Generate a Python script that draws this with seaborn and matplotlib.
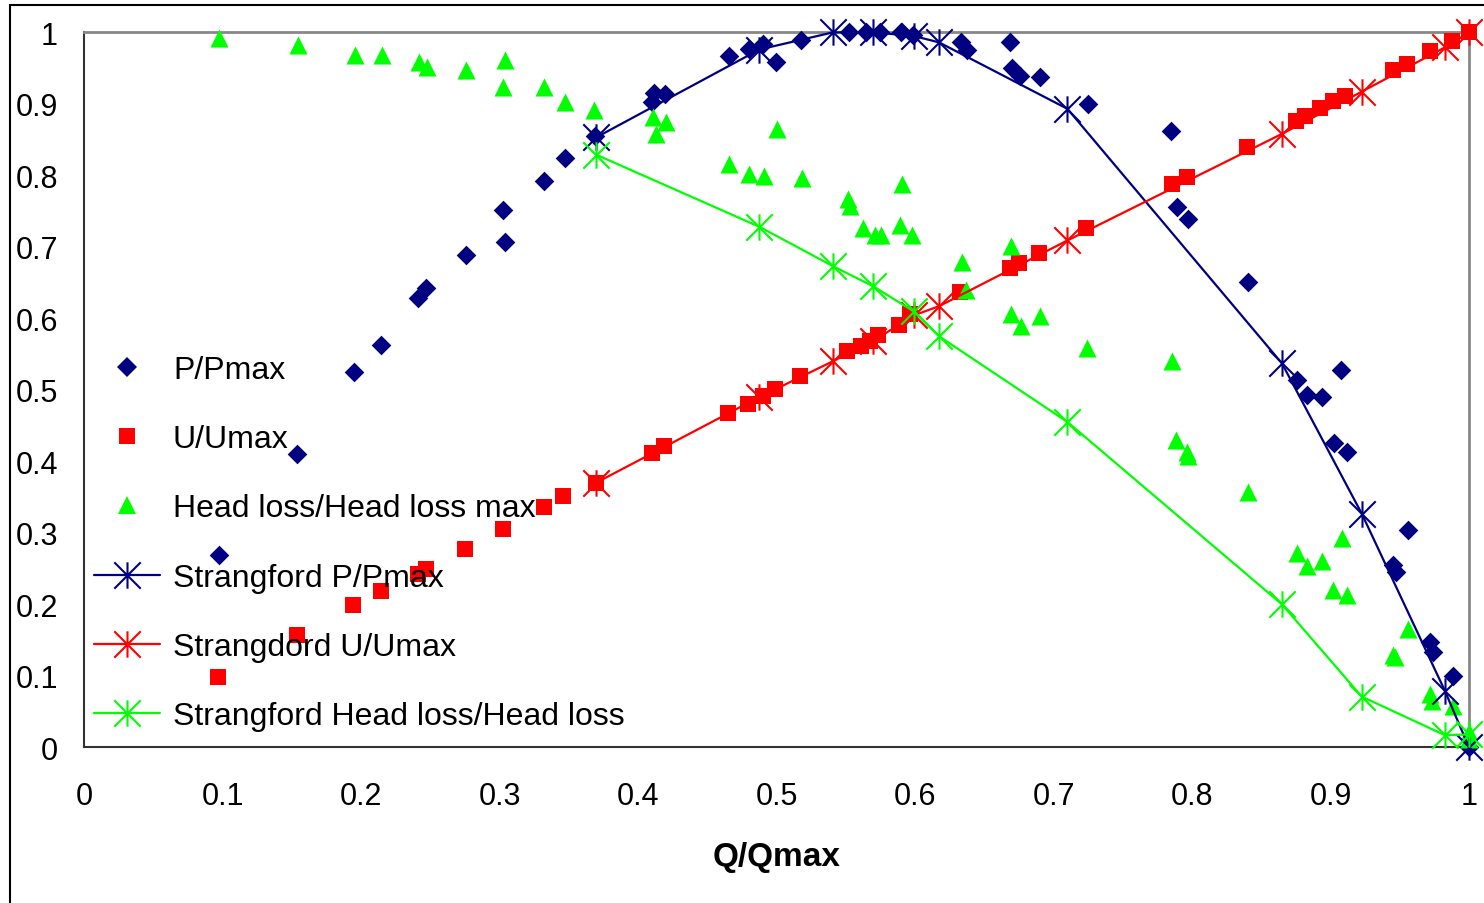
import matplotlib
matplotlib.use("Agg")
import matplotlib.pyplot as plt
import seaborn as sns
from matplotlib.path import Path
from matplotlib.lines import Line2D
from matplotlib.patches import Rectangle

# ---------------- data ----------------
p_x = [0.0971, 0.1535, 0.1947, 0.2145, 0.2412, 0.2470, 0.2752, 0.3023, 0.3037, 0.3319,
       0.3467, 0.3687, 0.4110, 0.4196, 0.4100, 0.4655, 0.4803, 0.4904, 0.4998, 0.5175,
       0.5522, 0.5645, 0.5746, 0.5897, 0.5984, 0.6331, 0.6371, 0.6688, 0.6699, 0.6757,
       0.6898, 0.7248, 0.7848, 0.7891, 0.7971, 0.8404, 0.8758, 0.8830, 0.8938, 0.9076,
       0.9025, 0.9119, 0.9559, 0.9451, 0.9473, 0.9718, 0.9740, 0.9884, 1.0000]
p_y = [0.269, 0.410, 0.525, 0.563, 0.628, 0.642, 0.689, 0.751, 0.707, 0.792,
       0.824, 0.855, 0.915, 0.914, 0.903, 0.967, 0.977, 0.984, 0.959, 0.989,
       1.000, 1.000, 1.000, 1.000, 0.996, 0.986, 0.975, 0.986, 0.950, 0.939,
       0.938, 0.900, 0.862, 0.756, 0.739, 0.651, 0.514, 0.493, 0.490, 0.528,
       0.426, 0.413, 0.304, 0.255, 0.245, 0.147, 0.133, 0.100, 0.000]

u_x = [0.0964, 0.1535, 0.1939, 0.2142, 0.2409, 0.2466, 0.2748, 0.3023, 0.3319, 0.3456,
       0.3695, 0.4099, 0.4185, 0.4648, 0.4792, 0.4901, 0.4987, 0.5168, 0.5508, 0.5609,
       0.5674, 0.5731, 0.5883, 0.5962, 0.6323, 0.6684, 0.6749, 0.6894, 0.7234, 0.7855,
       0.7963, 0.8397, 0.8750, 0.8816, 0.8924, 0.9018, 0.9104, 0.9451, 0.9552, 0.9718,
       0.9877, 1.0000]
u_y = [0.098, 0.157, 0.199, 0.219, 0.242, 0.249, 0.277, 0.305, 0.336, 0.352,
       0.370, 0.412, 0.421, 0.468, 0.480, 0.491, 0.501, 0.519, 0.554, 0.561,
       0.568, 0.577, 0.591, 0.606, 0.637, 0.670, 0.677, 0.691, 0.726, 0.788,
       0.797, 0.840, 0.876, 0.883, 0.894, 0.904, 0.911, 0.947, 0.956, 0.974,
       0.988, 1.000]

h_x = [0.0971, 0.1542, 0.1954, 0.2149, 0.2416, 0.2474, 0.2756, 0.3037, 0.3023, 0.3319,
       0.3467, 0.3680, 0.4106, 0.4200, 0.4128, 0.5002, 0.4655, 0.4799, 0.4908, 0.5182,
       0.5515, 0.5529, 0.5905, 0.5623, 0.5710, 0.5753, 0.5890, 0.5977, 0.6338, 0.6367,
       0.6692, 0.6692, 0.6764, 0.6901, 0.7241, 0.7855, 0.7884, 0.7963, 0.7971, 0.8404,
       0.8758, 0.8830, 0.8938, 0.9083, 0.9018, 0.9119, 0.9559, 0.9451, 0.9466, 0.9718,
       0.9733, 0.9884, 1.0000, 1.0000]
h_y = [0.992, 0.982, 0.969, 0.969, 0.959, 0.952, 0.947, 0.961, 0.924, 0.924,
       0.903, 0.891, 0.882, 0.875, 0.858, 0.865, 0.816, 0.802, 0.799, 0.796,
       0.767, 0.757, 0.788, 0.727, 0.716, 0.716, 0.730, 0.716, 0.679, 0.640,
       0.701, 0.606, 0.589, 0.603, 0.558, 0.540, 0.430, 0.413, 0.408, 0.357,
       0.272, 0.254, 0.261, 0.293, 0.220, 0.213, 0.165, 0.129, 0.126, 0.075,
       0.065, 0.058, 0.022, 0.012]

s_x = [0.3695, 0.4875, 0.5406, 0.5695, 0.5988, 0.6172, 0.7100, 0.8649, 0.9225, 0.9826, 1.0000]
sp_y = [0.853, 0.976, 1.000, 1.000, 0.995, 0.986, 0.893, 0.537, 0.327, 0.079, 0.000]
su_y = [0.370, 0.490, 0.540, 0.568, 0.604, 0.617, 0.709, 0.858, 0.917, 0.979, 1.000]
sh_y = [0.829, 0.728, 0.673, 0.645, 0.610, 0.575, 0.455, 0.200, 0.071, 0.017, 0.018]

series_labels = ["P/Pmax", "U/Umax", "Head loss/Head loss max",
                 "Strangford P/Pmax", "Strangdord U/Umax",
                 "Strangford Head loss/Head loss"]
tick_vals = [0, 0.1, 0.2, 0.3, 0.4, 0.5, 0.6, 0.7, 0.8, 0.9, 1]
tick_labels = ["0", "0.1", "0.2", "0.3", "0.4", "0.5", "0.6", "0.7", "0.8", "0.9", "1"]
x_title = "Q/Qmax"

NAVY, RED, GREEN = "#000080", "#FF0000", "#00FF00"

# ---------------- style ----------------
sns.set_style("white")
plt.rcParams["font.family"] = ["Liberation Sans", "DejaVu Sans"]
plt.rcParams["text.color"] = "black"
plt.rcParams["axes.labelcolor"] = "black"

fig = plt.figure(figsize=(14.84, 9.04), dpi=100)
fig.patch.set_facecolor("white")
ax = fig.add_axes([0.05694, 0.1722, 0.93295, 0.7909])

star = Path([(0, -1), (0, 1), (-1, -1), (1, 1), (-1, 1), (1, -1)],
            [Path.MOVETO, Path.LINETO, Path.MOVETO, Path.LINETO, Path.MOVETO, Path.LINETO])

D_MS, S_MS, T_MS = 10.0, 11.0, 13.0
sns.scatterplot(x=p_x, y=p_y, ax=ax, marker="D", s=D_MS ** 2, color=NAVY, linewidth=0, clip_on=False, zorder=3)
sns.scatterplot(x=u_x, y=u_y, ax=ax, marker="s", s=S_MS ** 2, color=RED, linewidth=0, clip_on=False, zorder=3)
sns.scatterplot(x=h_x, y=h_y, ax=ax, marker="^", s=T_MS ** 2, color=GREEN, linewidth=0, clip_on=False, zorder=3)

for yy, col in [(sp_y, NAVY), (su_y, RED), (sh_y, GREEN)]:
    sns.lineplot(x=s_x, y=yy, ax=ax, color=col, linewidth=1.6, sort=False, estimator=None,
                 marker=star, markersize=19, markeredgewidth=1.5, markeredgecolor=col,
                 markerfacecolor="none", clip_on=False, zorder=4)

ax.set_xlim(0, 1)
ax.set_ylim(0, 1)
ax.set_xticks(tick_vals)
ax.set_xticklabels(tick_labels)
ax.set_yticks(tick_vals)
ax.set_yticklabels(tick_labels)
ax.tick_params(axis="both", direction="out", length=8, width=1.2, color="#333333",
               labelsize=22, labelcolor="black")
ax.tick_params(axis="y", pad=11)
ax.tick_params(axis="x", pad=16)
ax.set_xlabel(x_title, fontsize=24, fontweight="bold", labelpad=22, color="black")
ax.set_ylabel("")

for side in ["left", "bottom"]:
    ax.spines[side].set_color("#333333")
    ax.spines[side].set_linewidth(1.5)
for side in ["top", "right"]:
    ax.spines[side].set_color("#888888")
    ax.spines[side].set_linewidth(2)
    ax.spines[side].set_visible(True)
ax.grid(False)

handles = [
    Line2D([], [], linestyle="none", marker="D", markersize=D_MS, color=NAVY, markeredgewidth=0),
    Line2D([], [], linestyle="none", marker="s", markersize=S_MS, color=RED, markeredgewidth=0),
    Line2D([], [], linestyle="none", marker="^", markersize=T_MS, color=GREEN, markeredgewidth=0),
    Line2D([], [], color=NAVY, linewidth=1.6, marker=star, markersize=19, markeredgewidth=1.5,
           markeredgecolor=NAVY, markerfacecolor="none"),
    Line2D([], [], color=RED, linewidth=1.6, marker=star, markersize=19, markeredgewidth=1.5,
           markeredgecolor=RED, markerfacecolor="none"),
    Line2D([], [], color=GREEN, linewidth=1.6, marker=star, markersize=19, markeredgewidth=1.5,
           markeredgecolor=GREEN, markerfacecolor="none"),
]
leg = ax.legend(handles, series_labels, loc="center left", bbox_to_anchor=(0.0069, 0.2857),
                frameon=False, fontsize=23, handlelength=2.07, handletextpad=0.4,
                labelspacing=1.23, borderpad=0, borderaxespad=0, labelcolor="black")
leg.set_zorder(5)

fig.add_artist(Rectangle((9.5 / 1484, -0.5), 2, (904 - 6) / 904 + 0.5, transform=fig.transFigure,
                         fill=False, edgecolor="black", linewidth=1.5, clip_on=False))

fig.savefig("out.png", dpi=100, facecolor="white")
